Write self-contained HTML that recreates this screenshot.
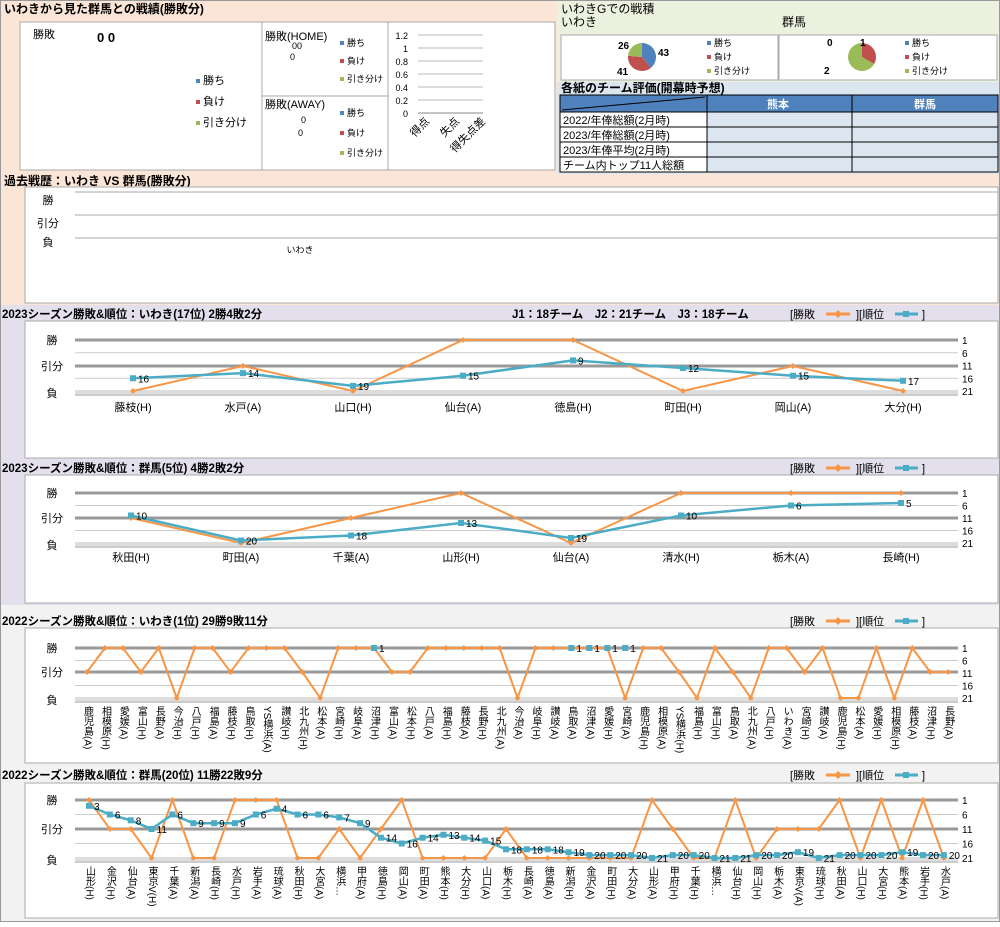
<!DOCTYPE html>
<html><head><meta charset="utf-8"><style>
body{margin:0;background:#fff}
svg text{font-family:"Liberation Sans","Noto Sans CJK JP",sans-serif}
.t{font-size:12px;font-weight:bold;fill:#000}
.s{font-size:11px;fill:#000}
.v{font-size:10px;writing-mode:vertical-rl;fill:#000}
</style></head><body>
<svg id="c" width="1000" height="922" xmlns="http://www.w3.org/2000/svg"></svg>
<script>
var o='';
function R(x,y,w,h,f,s){o+='<rect x="'+x+'" y="'+y+'" width="'+w+'" height="'+h+'" fill="'+f+'"'+(s?' stroke="'+s+'"':'')+'/>';}
function T(x,y,t,c,a){o+='<text x="'+x+'" y="'+y+'" class="'+(c||'s')+'"'+(a?' text-anchor="'+a+'"':'')+'>'+t+'</text>';}
function L(x1,y1,x2,y2,c,w){o+='<line x1="'+x1+'" y1="'+y1+'" x2="'+x2+'" y2="'+y2+'" stroke="'+c+'" stroke-width="'+(w||1)+'"/>';}
// backgrounds
R(0,0,1000,305,'#fbe5d6');R(0,305,1000,300,'#e4dfec');R(0,605,1000,317,'#f2f2f2');
R(557,0,443,82,'#ebf1de');R(557,82,443,92,'#dce6f1');
o+='<rect x="0.5" y="0.5" width="999" height="921" fill="none" stroke="#999"/>';
T(4,13,'いわきから見た群馬との戦績(勝敗分)','t');
R(20,22,242,148,'#fff','#aaa');R(262,22,126,74,'#fff','#aaa');R(262,96,126,74,'#fff','#aaa');R(388,22,167,148,'#fff','#aaa');
T(33,38,'勝敗');o+='<text x="97" y="42" style="font-size:13px;font-weight:bold">0 0</text>';
function leg(x,y,fs,g){var c=['#4f81bd','#c0504d','#9bbb59'],t=['勝ち','負け','引き分け'];for(var i=0;i<3;i++){R(x,y+i*g-5,4,4,c[i]);o+='<text x="'+(x+7)+'" y="'+(y+i*g)+'" style="font-size:'+fs+'px">'+t[i]+'</text>';}}
leg(196,84,11,21);
T(265,40,'勝敗(HOME)');o+='<text x="292" y="49" style="font-size:9px">00</text><text x="290" y="60" style="font-size:9px">0</text>';leg(340,46,9,18);
T(265,108,'勝敗(AWAY)');o+='<text x="301" y="123" style="font-size:9px">0</text><text x="298" y="136" style="font-size:9px">0</text>';leg(340,116,9,20);
var yl=['1.2','1','0.8','0.6','0.4','0.2','0'];for(var i=0;i<7;i++){var y=35+i*13;T(408,y+4,yl[i],'s" style="font-size:9px','end');L(418,y,483,y,'#bbb');}
L(418,113,483,113,'#888');
[['得点',420],['失点',450],['得失点差',476]].forEach(function(a){o+='<text transform="translate('+(a[1]+10)+',122) rotate(-45)" text-anchor="end" style="font-size:11px">'+a[0]+'</text>';});
// right top
T(561,13,'いわきGでの戦積','s" style="font-size:12px');T(561,26,'いわき','s" style="font-size:12px');T(782,26,'群馬','s" style="font-size:12px');
R(561,35,217,45,'#fff','#aaa');R(779,35,218,45,'#fff','#aaa');
function pie(cx,cy,r,v){var c=['#4f81bd','#c0504d','#9bbb59'],s=v[0]+v[1]+v[2],a=-Math.PI/2;for(var i=0;i<3;i++){if(!v[i])continue;var b=a+v[i]/s*2*Math.PI;var x1=cx+r*Math.cos(a),y1=cy+r*Math.sin(a),x2=cx+r*Math.cos(b),y2=cy+r*Math.sin(b);o+='<path d="M'+cx+','+cy+'L'+x1+','+y1+'A'+r+','+r+' 0 '+((b-a)>Math.PI?1:0)+' 1 '+x2+','+y2+'Z" fill="'+c[i]+'"/>';a=b;}}
pie(642,57,14,[43,41,26]);pie(862,57,14,[0,1,2]);
o+='<text x="618" y="49" style="font-size:10px;font-weight:bold">26</text><text x="658" y="56" style="font-size:10px;font-weight:bold">43</text><text x="617" y="75" style="font-size:10px;font-weight:bold">41</text>';
o+='<text x="827" y="46" style="font-size:10px;font-weight:bold">0</text><text x="860" y="46" style="font-size:10px;font-weight:bold">1</text><text x="824" y="74" style="font-size:10px;font-weight:bold">2</text>';
leg(707,46,9,14);leg(905,46,9,14);
T(561,92,'各紙のチーム評価(開幕時予想)','t');
R(560,95,438,17,'#4f81bd','#000');L(562,110,705,97,'#000');
T(778,108,'熊本','s" style="font-weight:bold;fill:#fff','middle');T(925,108,'群馬','s" style="font-weight:bold;fill:#fff','middle');
var rows=['2022/年俸総額(2月時)','2023/年俸総額(2月時)','2023/年俸平均(2月時)','チーム内トップ11人総額'];
for(var i=0;i<4;i++){var y=112+i*15;R(560,y,147,15,'#fff','#000');R(707,y,145,15,'#dce6f1','#000');R(852,y,146,15,'#dce6f1','#000');T(563,y+12,rows[i]);}
L(707,95,707,112,'#000');L(852,95,852,112,'#000');
// past
T(4,185,'過去戦歴：いわき VS 群馬(勝敗分)','t');R(25,187,973,116,'#fff','#aaa');
T(48,204,'勝','s','middle');T(48,227,'引分','s','middle');T(48,246,'負','s','middle');
L(75,192,998,192,'#aaa');L(75,215,998,215,'#aaa');L(75,238,998,238,'#aaa');
o+='<text x="300" y="253" style="font-size:9px" text-anchor="middle">いわき</text>';
// charts
function legend(y){o+='<text x="790" y="'+y+'" style="font-size:11px">[勝敗</text>';L(826,y-4,850,y-4,'#f79646',3);o+='<path d="M838,'+(y-8)+'l4,4-4,4-4-4z" fill="#f79646"/>';o+='<text x="856" y="'+y+'" style="font-size:11px">][順位</text>';L(895,y-4,918,y-4,'#4bacc6',3);R(903,y-7,6,6,'#4bacc6');o+='<text x="922" y="'+y+'" style="font-size:11px">]</text>';}
function chart(cfg){
 var W=cfg.w,D=cfg.d,Lo=cfg.l,x0=cfg.x0,dx=cfg.dx,n=cfg.res.length;
 T(2,cfg.ty,cfg.title,'t" style="font-size:11.5px');legend(cfg.ty);
 R(25,cfg.by,973,cfg.bh,'#fff','#aaa');
 var rk=function(r){return W+(r-1)*(Lo-W)/20;};
 [6,16].forEach(function(r){L(75,rk(r),958,rk(r),'#ccc');});
 L(75,W,958,W,'#999',3);L(75,D,958,D,'#999',3);L(75,Lo,958,Lo,'#bbb',1);L(75,Lo+2,958,Lo+2,'#bbb',1);
 T(52,W+4,'勝','s','middle');T(52,D+4,'引分','s','middle');T(52,Lo+6,'負','s','middle');
 ['1','6','11','16','21'].forEach(function(t,i){o+='<text x="962" y="'+(rk(+t)+4)+'" style="font-size:10px">'+t+'</text>';});
 L(75,Lo+4,958,Lo+4,'#999');
 var p='';cfg.res.forEach(function(r,i){var x=x0+i*dx,y=r=='W'?W:r=='D'?D:Lo;p+=(i?'L':'M')+x+','+y;});
 o+='<path d="'+p+'" fill="none" stroke="#f79646" stroke-width="2"/>';
 cfg.res.forEach(function(r,i){var x=x0+i*dx,y=r=='W'?W:r=='D'?D:Lo;o+='<path d="M'+x+','+(y-3)+'l3,3-3,3-3-3z" fill="#f79646"/>';});
 if(cfg.rank){var q='',pts=[];cfg.rank.forEach(function(r,i){if(r==null)return;var x=x0+i*dx,y=rk(r);q+=(q?'L':'M')+x+','+y;pts.push([x,y,r]);});
  if(!cfg.noline)o+='<path d="'+q+'" fill="none" stroke="#4bacc6" stroke-width="2.5"/>';
  pts.forEach(function(p){R(p[0]-3,p[1]-3,6,6,'#4bacc6');o+='<text x="'+(p[0]+5)+'" y="'+(p[1]+4)+'" style="font-size:10px">'+p[2]+'</text>';});}
 cfg.cats.forEach(function(c,i){var x=x0+i*dx;if(cfg.vert)o+='<text x="'+x+'" y="'+cfg.cy+'" class="v">'+c+'</text>';else T(x,cfg.cy,c,'s','middle');});
}
chart({title:'2023シーズン勝敗&amp;順位：いわき(17位) 2勝4敗2分',ty:318,by:321,bh:137,w:340,d:366,l:391,x0:133,dx:110,res:'LDLWWLDL'.split(''),rank:[16,14,19,15,9,12,15,17],cats:['藤枝(H)','水戸(A)','山口(H)','仙台(A)','徳島(H)','町田(H)','岡山(A)','大分(H)'],cy:411});
T(512,318,'J1：18チーム　J2：21チーム　J3：18チーム','t" style="font-size:11.5px');
chart({title:'2023シーズン勝敗&amp;順位：群馬(5位) 4勝2敗2分',ty:472,by:475,bh:128,w:493,d:518,l:543,x0:131,dx:110,res:'DLDWLWWW'.split(''),rank:[10,20,18,13,19,10,6,5],cats:['秋田(H)','町田(A)','千葉(A)','山形(H)','仙台(A)','清水(H)','栃木(A)','長崎(H)'],cy:561});
var c22=['鹿児島(A)','相模原(H)','愛媛(A)','富山(H)','長野(A)','今治(H)','八戸(H)','福島(A)','藤枝(H)','鳥取(H)','YS横浜(A)','讃岐(H)','北九州(H)','松本(A)','宮崎(H)','岐阜(A)','沼津(H)','富山(A)','松本(H)','八戸(A)','福島(H)','藤枝(A)','長野(H)','北九州(A)','今治(A)','岐阜(H)','讃岐(A)','鳥取(A)','沼津(A)','愛媛(H)','宮崎(A)','鹿児島(H)','相模原(A)','YS横浜(H)','福島(H)','富山(H)','鳥取(A)','北九州(A)','八戸(H)','いわき(A)','宮崎(H)','讃岐(A)','鹿児島(H)','松本(A)','愛媛(H)','相模原(H)','藤枝(A)','沼津(H)','長野(A)'];
var rk22=[];for(var i=0;i<49;i++)rk22.push(null);rk22[16]=1;rk22[27]=1;rk22[28]=1;rk22[29]=1;rk22[30]=1;
chart({title:'2022シーズン勝敗&amp;順位：いわき(1位) 29勝9敗11分',ty:625,by:628,bh:135,w:648,d:672,l:698,x0:87,dx:17.94,res:'DWWDWLWWDWWWDLWWWDDWWWWWLWWWWWLWWDLWDLWWDWLLWLWDD'.split(''),rank:rk22,noline:true,cats:c22,vert:true,cy:706});
var g22=['山形(H)','金沢(H)','仙台(A)','東京V(H)','千葉(A)','新潟(A)','長崎(H)','水戸(H)','岩手(A)','琉球(A)','秋田(H)','大宮(A)','横浜…','甲府(A)','徳島(H)','岡山(A)','町田(A)','熊本(H)','大分(H)','山口(A)','栃木(H)','長崎(A)','徳島(A)','新潟(H)','金沢(A)','町田(H)','大分(A)','山形(A)','甲府(H)','千葉(H)','横浜…','仙台(H)','岡山(H)','栃木(A)','東京V(A)','琉球(H)','秋田(A)','山口(H)','大宮(H)','熊本(A)','岩手(H)','水戸(A)'];
chart({title:'2022シーズン勝敗&amp;順位：群馬(20位) 11勝22敗9分',ty:779,by:783,bh:135,w:800,d:829,l:858,x0:89,dx:20.85,res:'WDDLWLLWWWLLDLDWLLLLDLLLLLLWDLLWLDDDWLWLWL'.split(''),rank:[3,6,8,11,6,9,9,9,6,4,6,6,7,9,14,16,14,13,14,15,18,18,18,19,20,20,20,21,20,20,21,21,20,20,19,21,20,20,20,19,20,20],cats:g22,vert:true,cy:866});
document.getElementById('c').innerHTML=o;
</script>
</body></html>
